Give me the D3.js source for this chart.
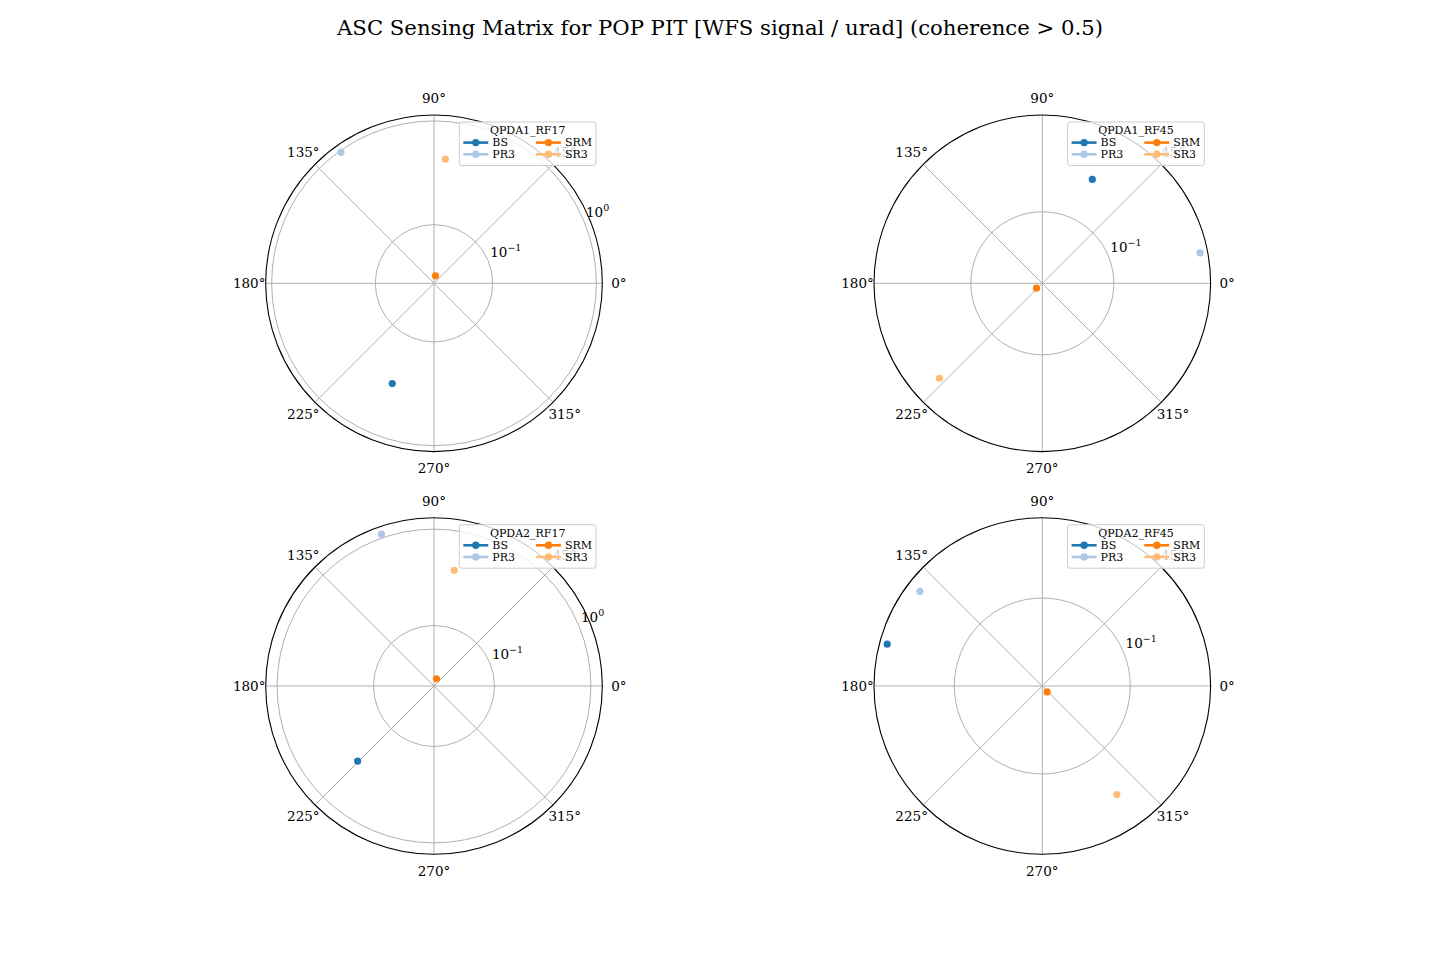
<!DOCTYPE html>
<html lang="en">
<head>
<meta charset="UTF-8">
<title>ASC Sensing Matrix for POP PIT</title>
<script src="https://d3js.org/d3.v7.min.js"></script>
<style>
  body { margin: 0; background: #fff; }
  svg { display: block; font-family: "DejaVu Serif", serif; }
  .grid { stroke: #b0b0b0; stroke-width: 1; fill: none; }
  .frame { stroke: #000; stroke-width: 1.1; fill: none; }
  .tick { font-size: 13.5px; fill: #000; }
  .leg { font-size: 11px; fill: #000; }
</style>
</head>
<body>
<svg id="chart" width="1440" height="960"></svg>
<script>
// data: magnitude [WFS signal / urad] and phase [deg]
const sensors = ["QPDA1_RF17", "QPDA1_RF45", "QPDA2_RF17", "QPDA2_RF45"];
const optics = ["BS", "PR3", "SRM", "SR3"];
const colors = ["#1f77b4", "#aec7e8", "#ff7f0e", "#ffbb78"];

const magQPDA1_RF17 = [0.303, 0.963, 0.0322, 0.433];
const phaseQPDA1_RF17 = [247.4, 125.4, 79, 84.8];
const magQPDA1_RF45 = [0.24, 0.594, 0.0279, 0.393];
const phaseQPDA1_RF45 = [64.3, 10.9, 219.8, 222.7];
const magQPDA2_RF17 = [0.304, 1.094, 0.0283, 0.39];
const phaseQPDA2_RF17 = [224.5, 109.1, 71, 80.1];
const magQPDA2_RF45 = [0.4727, 0.4168, 0.01795, 0.2544];
const phaseQPDA2_RF45 = [164.9, 142.3, 309.3, 304.5];

const mags = [magQPDA1_RF17, magQPDA1_RF45, magQPDA2_RF17, magQPDA2_RF45];
const phases = [phaseQPDA1_RF17, phaseQPDA1_RF45, phaseQPDA2_RF17, phaseQPDA2_RF45];
const angleTicks = [0, 45, 90, 135, 180, 225, 270, 315];

const svg = d3.select("#chart");
const R = 168.3;
const centers = [[434, 283.3], [1042.3, 283.3], [434, 686], [1042.3, 686]];

svg.append("text")
  .attr("x", 720).attr("y", 35)
  .attr("text-anchor", "middle")
  .attr("font-size", "21.2px")
  .text("ASC Sensing Matrix for POP PIT [WFS signal / urad] (coherence > 0.5)");

const theta = d3.scaleLinear().domain([0, 360]).range([0, 2 * Math.PI]);

sensors.forEach((name, i) => {
  const [cx, cy] = centers[i];
  const m = mags[i], p = phases[i];
  // log radial scale with 5% margin each side like matplotlib autoscale
  const lo = Math.log10(d3.min(m)), hi = Math.log10(d3.max(m));
  const pad = 0.05 * (hi - lo);
  const r = d3.scaleLog().domain([10 ** (lo - pad), 10 ** (hi + pad)]).range([0, R]);

  const g = svg.append("g").attr("transform", `translate(${cx},${cy})`);
  const px = (v, a) => r(v) * Math.cos(theta(a));
  const py = (v, a) => -r(v) * Math.sin(theta(a));

  // radial gridlines at powers of ten
  const decades = d3.range(Math.ceil(lo - pad), Math.floor(hi + pad) + 1);
  g.selectAll(".rgrid").data(decades).join("circle")
    .attr("class", "grid").attr("r", e => r(10 ** e));

  // angular gridlines
  g.selectAll(".agrid").data(angleTicks).join("line")
    .attr("class", "grid")
    .attr("x1", 0).attr("y1", 0)
    .attr("x2", a => R * Math.cos(theta(a)))
    .attr("y2", a => -R * Math.sin(theta(a)));

  g.append("circle").attr("class", "frame").attr("r", R);

  // angle labels
  g.selectAll(".alab").data(angleTicks).join("text")
    .attr("class", "tick")
    .attr("x", a => (R + 16.5) * Math.cos(theta(a)))
    .attr("y", a => -(R + 16.5) * Math.sin(theta(a)))
    .attr("text-anchor", "middle")
    .attr("dy", "0.35em")
    .text(a => a + "°");

  // radial tick labels along 22.5 deg
  const rl = g.selectAll(".rlab").data(decades).join("text")
    .attr("class", "tick")
    .attr("x", e => r(10 ** e) * Math.cos(theta(22.5)) + 2)
    .attr("y", e => -r(10 ** e) * Math.sin(theta(22.5)) - 4);
  rl.append("tspan").text("10");
  rl.append("tspan").attr("font-size", "9.5px").attr("dy", "-6").text(e => String(e).replace("-", "−"));

  // data points
  g.selectAll(".pt").data(optics).join("circle")
    .attr("cx", (d, j) => px(m[j], p[j]))
    .attr("cy", (d, j) => py(m[j], p[j]))
    .attr("r", 3.6)
    .attr("fill", (d, j) => colors[j]);

  // legend
  const lg = g.append("g").attr("transform", `translate(25.3,-161.3)`);
  lg.append("rect")
    .attr("width", 136.7).attr("height", 43.5)
    .attr("rx", 2.5)
    .attr("fill", "#fff").attr("fill-opacity", 0.8)
    .attr("stroke", "#cccccc").attr("stroke-width", 1);
  lg.append("text").attr("class", "leg")
    .attr("x", 68.4).attr("y", 8.3).attr("dy", "0.35em")
    .attr("text-anchor", "middle").text(name);
  const items = lg.selectAll(".item").data(optics).join("g")
    .attr("transform", (d, j) => `translate(${j < 2 ? 4 : 76.7},${j % 2 === 0 ? 20.6 : 32.3})`);
  items.append("line")
    .attr("x1", 0).attr("x2", 25).attr("y1", 0).attr("y2", 0)
    .attr("stroke", (d, j) => colors[j]).attr("stroke-width", 2.6);
  items.append("circle")
    .attr("cx", 12.5).attr("r", 3.7)
    .attr("fill", (d, j) => colors[j]);
  items.append("text").attr("class", "leg")
    .attr("x", 29).attr("dy", "0.35em").text(d => d);
});
</script>
</body>
</html>
